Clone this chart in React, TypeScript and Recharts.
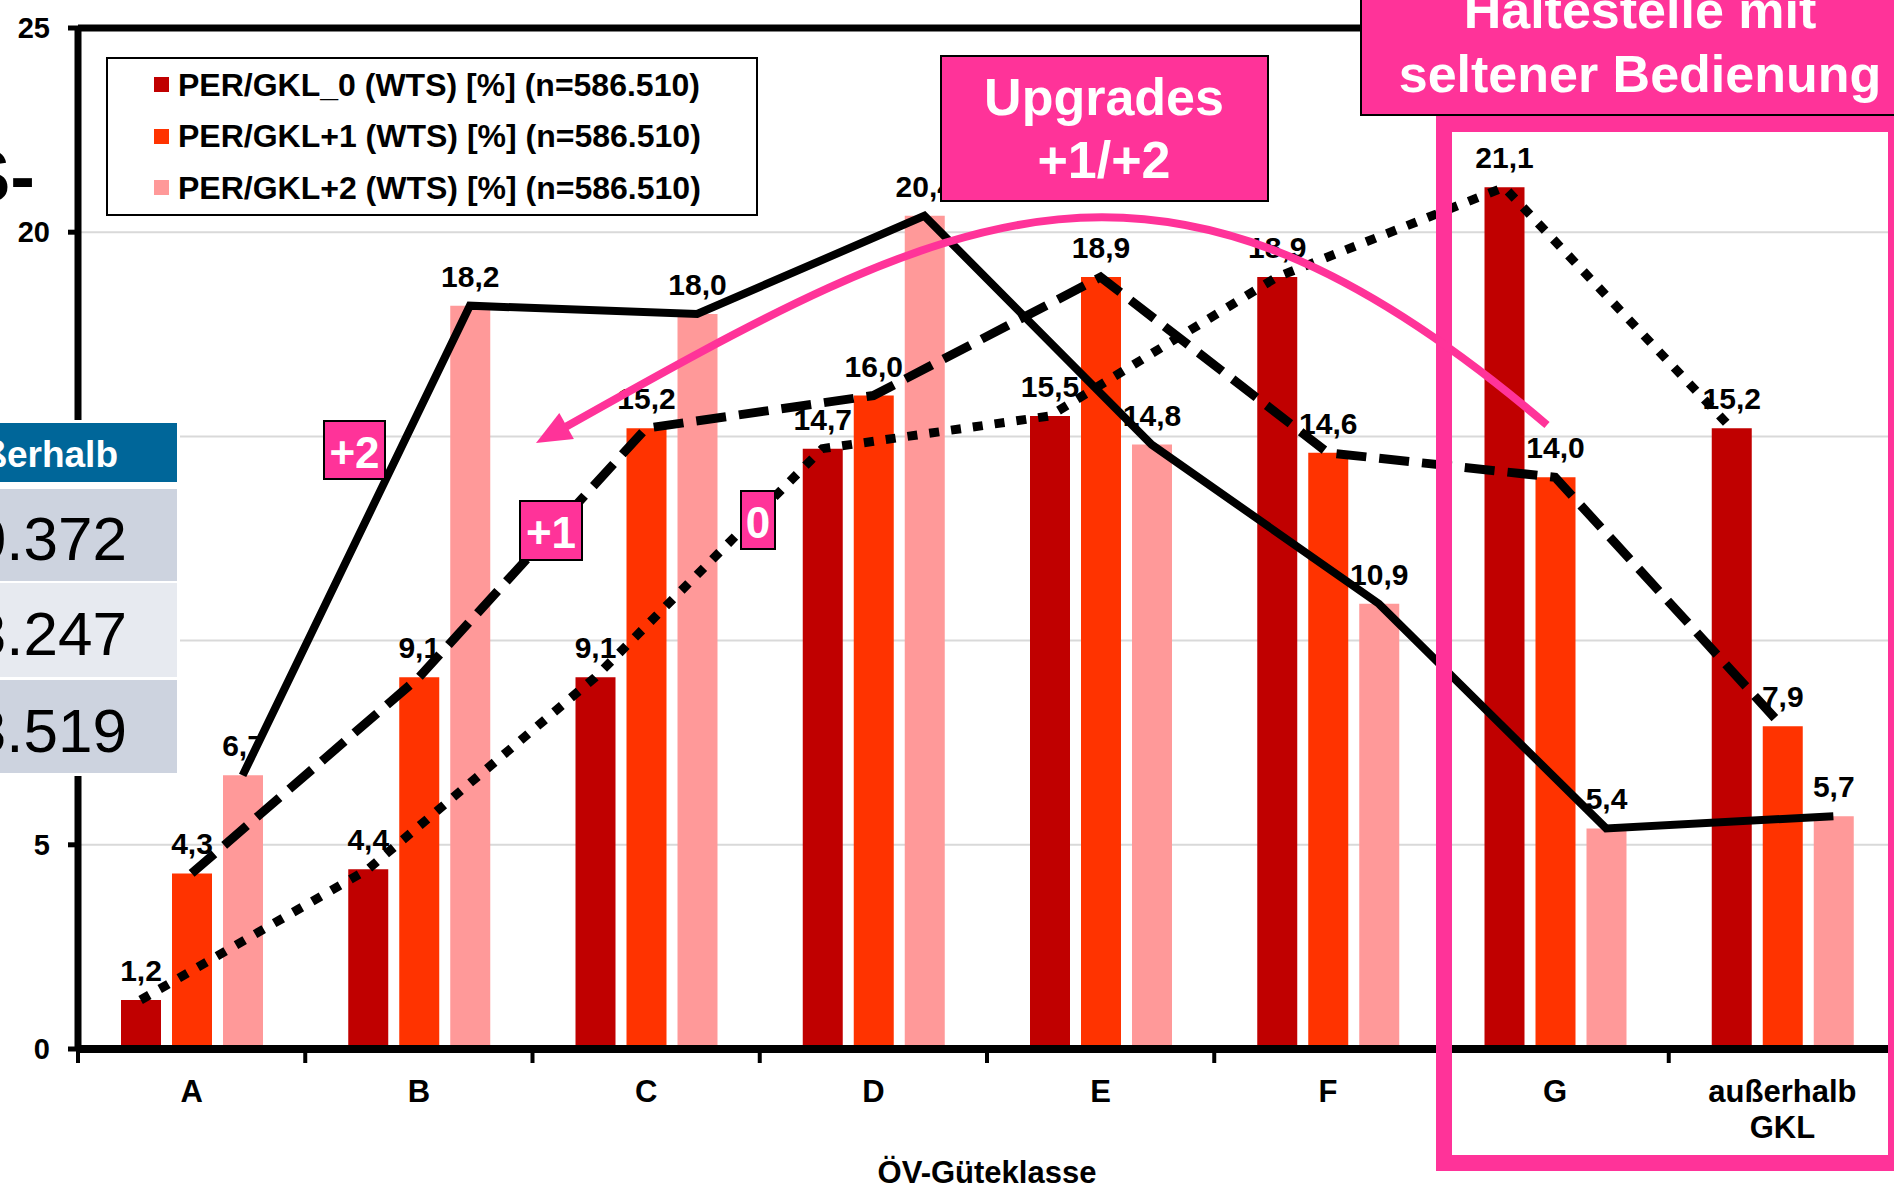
import React from 'react';
import {
  ComposedChart,
  Bar,
  Line,
  XAxis,
  YAxis,
  CartesianGrid,
  Legend,
  LabelList,
  ReferenceLine,
} from 'recharts';

// ---------- data ----------
const categories = ['A', 'B', 'C', 'D', 'E', 'F', 'G', 'außerhalb GKL'];
const gkl0 = [1.2, 4.4, 9.1, 14.7, 15.5, 18.9, 21.1, 15.2];
const gkl1 = [4.3, 9.1, 15.2, 16.0, 18.9, 14.6, 14.0, 7.9];
const gkl2 = [6.7, 18.2, 18.0, 20.4, 14.8, 10.9, 5.4, 5.7];
const seriesKeys = ['v0', 'v1', 'v2'];
const seriesNames = [
  'PER/GKL_0 (WTS) [%] (n=586.510)',
  'PER/GKL+1 (WTS) [%] (n=586.510)',
  'PER/GKL+2 (WTS) [%] (n=586.510)',
];
const seriesColors = ['#C00000', '#FF3300', '#FF9999'];
const yTicks = [0, 5, 10, 15, 20, 25];
const xTitle = 'ÖV-Güteklasse';
const tableHeader = 'Außerhalb';
const tableValues = ['0.372', '3.247', '3.519'];
const upgradeLines = ['Upgrades', '+1/+2'];
const stopLines = ['Haltestelle mit', 'seltener Bedienung'];
const lineTags = ['+2', '+1', '0'];

// ---------- layout ----------
const W = 1894;
const H = 1189;
const CHART_W = 1900;
const MARGIN = { top: 28, right: 4, left: 0, bottom: 0 };
const Y_AXIS_W = 78;
const X_AXIS_H = 140;
const PLOT_LEFT = MARGIN.left + Y_AXIS_W;
const PLOT_RIGHT = CHART_W - MARGIN.right;
const BAND = (PLOT_RIGHT - PLOT_LEFT) / categories.length;
const BAR_SIZE = 40;
const BAR_GAP = 11;
const OFF = (BAR_SIZE + BAR_GAP) / BAND;
const FONT = "'Liberation Sans', Arial, Helvetica, sans-serif";
const PINK = '#FF3399';

const data = categories.map((cat, i) => ({
  cat,
  v0: gkl0[i],
  v1: gkl1[i],
  v2: gkl2[i],
  x0: i + 0.5 - OFF,
  x2: i + 0.5 + OFF,
}));

const fmt = (v: number) => v.toFixed(1).replace('.', ',');

const BarLabel = (props: any) => {
  const vb = props.viewBox || props;
  const x = vb.x ?? props.x;
  const y = vb.y ?? props.y;
  const width = vb.width ?? props.width;
  return (
    <text
      x={x + width / 2}
      y={y - 19}
      textAnchor="middle"
      fontFamily={FONT}
      fontWeight="bold"
      fontSize={30}
      fill="#000"
    >
      {fmt(Number(props.value))}
    </text>
  );
};

const XTick = (props: any) => {
  const { x, y, payload, index } = props;
  const lines = String(payload.value).split(' ');
  return (
    <g>
      <line x1={x - BAND / 2} x2={x - BAND / 2} y1={y} y2={y + 14} stroke="#000" strokeWidth={4} />
      {index === categories.length - 1 && (
        <line x1={x + BAND / 2} x2={x + BAND / 2} y1={y} y2={y + 14} stroke="#000" strokeWidth={4} />
      )}
      <text x={x} y={y + 53} textAnchor="middle" fontFamily={FONT} fontWeight="bold" fontSize={31} fill="#000">
        {lines.map((l, k) => (
          <tspan key={k} x={x} dy={k === 0 ? 0 : 36}>
            {l}
          </tspan>
        ))}
      </text>
    </g>
  );
};

const XTitle = (props: any) => {
  const vb = props.viewBox || {};
  return (
    <text
      x={vb.x + vb.width / 2}
      y={vb.y + 134}
      textAnchor="middle"
      fontFamily={FONT}
      fontWeight="bold"
      fontSize={31}
      fill="#000"
    >
      {xTitle}
    </text>
  );
};

const LegendBox = (props: any) => {
  const payload = (props.payload || [])
    .filter((p: any) => p.type !== 'none' && seriesKeys.includes(String(p.dataKey)))
    .slice()
    .sort((a: any, b: any) => seriesKeys.indexOf(String(a.dataKey)) - seriesKeys.indexOf(String(b.dataKey)));
  return (
    <div
      style={{
        boxSizing: 'border-box',
        width: 652,
        height: 159,
        border: '2px solid #000',
        background: '#fff',
        paddingLeft: 46,
        paddingTop: 0,
      }}
    >
      {payload.map((p: any, i: number) => (
        <div key={i} style={{ display: 'flex', alignItems: 'center', height: 51.5 }}>
          <span style={{ display: 'inline-block', width: 15, height: 15, background: p.color, marginRight: 9 }} />
          <span
            style={{
              fontFamily: FONT,
              fontWeight: 'bold',
              fontSize: 32,
              color: '#000',
              whiteSpace: 'nowrap',
              lineHeight: '32px',
            }}
          >
            {p.value}
          </span>
        </div>
      ))}
    </div>
  );
};

const Overlay = () => {
  const tip = { x: 536, y: 443 };
  const dir = { x: -0.874, y: 0.486 };
  const len = 35;
  const half = 15;
  const bc = { x: tip.x - len * dir.x, y: tip.y - len * dir.y };
  const perp = { x: -dir.y, y: dir.x };
  const headPts = [
    `${tip.x},${tip.y}`,
    `${bc.x + half * perp.x},${bc.y + half * perp.y}`,
    `${bc.x - half * perp.x},${bc.y - half * perp.y}`,
  ].join(' ');
  const rowRects = [
    { y: 489, h: 92, fill: '#CDD3DF', base: 560 },
    { y: 583, h: 94, fill: '#E7EAF0', base: 655 },
    { y: 680, h: 93, fill: '#CDD3DF', base: 752 },
  ];
  const tags = [
    { x: 324, y: 421, w: 61, h: 58, base: 468 },
    { x: 520, y: 501, w: 62, h: 59, base: 548 },
    { x: 741, y: 491, w: 34, h: 58, base: 538 },
  ];
  return (
    <svg
      width={W}
      height={H}
      style={{ position: 'absolute', left: 0, top: 0, pointerEvents: 'none' }}
    >
      <text x={-39} y={202} fontFamily={FONT} fontWeight="bold" fontSize={74} fill="#000">
        S-
      </text>

      <rect x={0} y={420} width={180} height={356} fill="#fff" />
      <rect x={-5} y={423} width={182} height={59} fill="#006699" />
      <text x={118} y={467} textAnchor="end" fontFamily={FONT} fontWeight="bold" fontSize={37} fill="#fff">
        {tableHeader}
      </text>
      {rowRects.map((r, i) => (
        <g key={i}>
          <rect x={-5} y={r.y} width={182} height={r.h} fill={r.fill} />
          <text x={127} y={r.base} textAnchor="end" fontFamily={FONT} fontSize={62} fill="#000">
            {tableValues[i]}
          </text>
        </g>
      ))}

      <rect x={1444} y={124} width={452} height={1039} fill="none" stroke={PINK} strokeWidth={16} />

      <rect x={1361} y={-20} width={600} height={135} fill={PINK} stroke="#000" strokeWidth={2} />
      <text x={1640} y={28} textAnchor="middle" fontFamily={FONT} fontWeight="bold" fontSize={52} fill="#fff">
        {stopLines[0]}
      </text>
      <text x={1640} y={92} textAnchor="middle" fontFamily={FONT} fontWeight="bold" fontSize={52} fill="#fff">
        {stopLines[1]}
      </text>

      <path
        d="M 1547 425 C 1160 95, 960 205, 560 430"
        fill="none"
        stroke={PINK}
        strokeWidth={8}
      />
      <polygon points={headPts} fill={PINK} />

      <rect x={941} y={56} width={327} height={145} fill={PINK} stroke="#000" strokeWidth={2} />
      <text x={1104} y={115} textAnchor="middle" fontFamily={FONT} fontWeight="bold" fontSize={52} fill="#fff">
        {upgradeLines[0]}
      </text>
      <text x={1104} y={178} textAnchor="middle" fontFamily={FONT} fontWeight="bold" fontSize={52} fill="#fff">
        {upgradeLines[1]}
      </text>

      {tags.map((t, i) => (
        <g key={i}>
          <rect x={t.x} y={t.y} width={t.w} height={t.h} fill={PINK} stroke="#000" strokeWidth={2} />
          <text
            x={t.x + t.w / 2}
            y={t.base}
            textAnchor="middle"
            fontFamily={FONT}
            fontWeight="bold"
            fontSize={44}
            fill="#fff"
          >
            {lineTags[i]}
          </text>
        </g>
      ))}
    </svg>
  );
};

export default function App() {
  return (
    <div
      style={{
        position: 'absolute',
        left: 0,
        top: 0,
        width: W,
        height: H,
        overflow: 'hidden',
        background: '#fff',
      }}
    >
      <ComposedChart width={CHART_W} height={H} data={data} margin={MARGIN} barGap={BAR_GAP}>
        <CartesianGrid xAxisId="cat" horizontal vertical={false} stroke="#D9D9D9" strokeWidth={2} />
        <XAxis
          xAxisId="cat"
          dataKey="cat"
          type="category"
          height={X_AXIS_H}
          interval={0}
          tickSize={0}
          tickMargin={0}
          tickLine={false}
          tick={<XTick />}
          axisLine={{ stroke: '#000', strokeWidth: 8 }}
          label={<XTitle />}
        />
        <XAxis xAxisId="n0" dataKey="x0" type="number" domain={[0, categories.length]} hide allowDataOverflow />
        <XAxis xAxisId="n2" dataKey="x2" type="number" domain={[0, categories.length]} hide allowDataOverflow />
        <YAxis
          width={Y_AXIS_W}
          domain={[0, 25]}
          ticks={yTicks}
          interval={0}
          tickSize={10}
          tickMargin={18}
          tick={{ fontFamily: FONT, fontWeight: 'bold', fontSize: 29, fill: '#000' }}
          tickLine={{ stroke: '#000', strokeWidth: 5 }}
          axisLine={{ stroke: '#000', strokeWidth: 7 }}
        />
        <ReferenceLine xAxisId="cat" y={25} stroke="#000" strokeWidth={7} />
        <Legend
          layout="vertical"
          align="center"
          verticalAlign="middle"
          content={<LegendBox />}
          wrapperStyle={{ position: 'absolute', left: 106, top: 57, width: 652, height: 159 }}
        />
        {seriesKeys.map((k, i) => (
          <Bar
            key={k}
            xAxisId="cat"
            dataKey={k}
            name={seriesNames[i]}
            fill={seriesColors[i]}
            barSize={BAR_SIZE}
            isAnimationActive={false}
          >
            <LabelList dataKey={k} content={<BarLabel />} />
          </Bar>
        ))}
        <Line
          xAxisId="n0"
          dataKey="v0"
          stroke="#000"
          strokeWidth={9}
          strokeDasharray="10 12"
          dot={false}
          activeDot={false}
          legendType="none"
          isAnimationActive={false}
        />
        <Line
          xAxisId="cat"
          dataKey="v1"
          stroke="#000"
          strokeWidth={9}
          strokeDasharray="30 13"
          dot={false}
          activeDot={false}
          legendType="none"
          isAnimationActive={false}
        />
        <Line
          xAxisId="n2"
          dataKey="v2"
          stroke="#000"
          strokeWidth={8}
          dot={false}
          activeDot={false}
          legendType="none"
          isAnimationActive={false}
        />
      </ComposedChart>
      <Overlay />
    </div>
  );
}
